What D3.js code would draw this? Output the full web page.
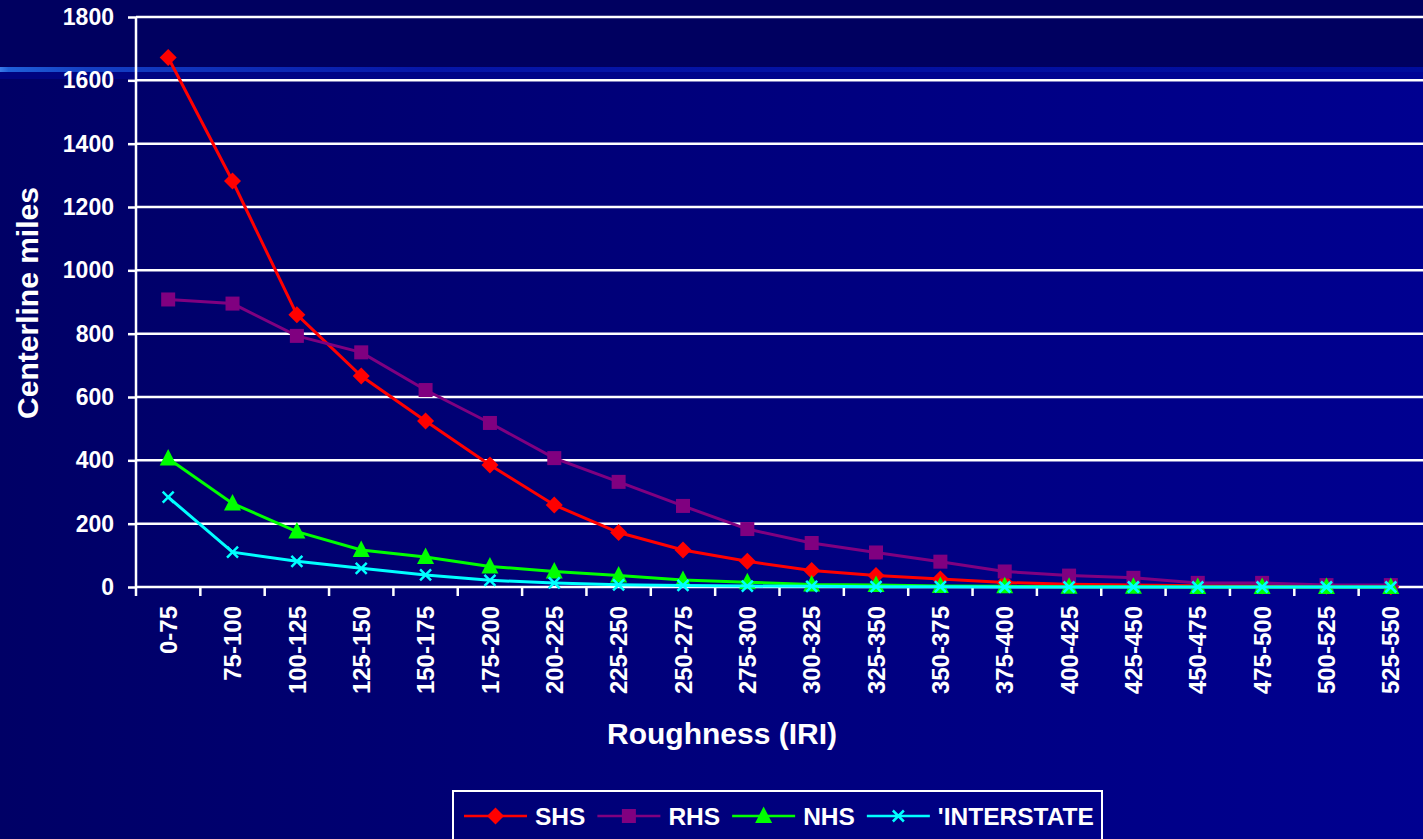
<!DOCTYPE html>
<html>
<head>
<meta charset="utf-8">
<script src="https://cdn.jsdelivr.net/npm/d3@7/dist/d3.min.js"></script>
<style>
  html, body { margin: 0; padding: 0; background: #000066; overflow: hidden; }
  svg { display: block; }
  text { font-family: "Liberation Sans", Arial, sans-serif; font-weight: bold; fill: #ffffff; }
</style>
</head>
<body>
<svg id="chart" width="1423" height="839"></svg>
<script>
// Roughness bins (IRI) and centerline miles per highway system
const categories = ["0-75","75-100","100-125","125-150","150-175","175-200","200-225","225-250","250-275","275-300","300-325","325-350","350-375","375-400","400-425","425-450","450-475","475-500","500-525","525-550"];
const shs        = [1672, 1282, 860, 666, 524, 385, 259, 172, 117, 81, 52, 36, 25, 14, 9, 6, 4, 3, 2, 1];
const rhs        = [908, 895, 793, 741, 622, 518, 407, 332, 256, 183, 139, 109, 80, 49, 36, 29, 13, 13, 6, 6];
const nhs        = [406, 264, 175, 117, 95, 65, 49, 36, 22, 15, 8, 6, 3, 2, 1, 1, 0, 0, 0, 0];
const interstate = [284, 110, 81, 59, 38, 21, 13, 7, 5, 3, 2, 1, 1, 0, 0, 0, 0, 0, 0, 0];
const yTicks     = [0, 200, 400, 600, 800, 1000, 1200, 1400, 1600, 1800];

const seriesNames  = ["SHS", "RHS", "NHS", "'INTERSTATE"];
const seriesValues = [shs, rhs, nhs, interstate];
const seriesColors = ["#ff0000", "#800080", "#00ff00", "#00ffff"];
const seriesMarks  = ["diamond", "square", "triangle", "cross"];

const W = 1423, H = 839;
const svg = d3.select("#chart");
const defs = svg.append("defs");

// slide background: dark band on top, horizontal blue gradient below
const bgGrad = defs.append("linearGradient").attr("id", "bg").attr("x1", 0).attr("x2", 1).attr("y1", 0).attr("y2", 0);
bgGrad.append("stop").attr("offset", 0).attr("stop-color", "#000066");
bgGrad.append("stop").attr("offset", 0.5).attr("stop-color", "#00007c");
bgGrad.append("stop").attr("offset", 1).attr("stop-color", "#000090");
const barGrad = defs.append("linearGradient").attr("id", "bar").attr("x1", 0).attr("x2", 1).attr("y1", 0).attr("y2", 0);
barGrad.append("stop").attr("offset", 0).attr("stop-color", "#3c7ce8");
barGrad.append("stop").attr("offset", 0.006).attr("stop-color", "#2060d8");
barGrad.append("stop").attr("offset", 0.06).attr("stop-color", "#1440c4");
barGrad.append("stop").attr("offset", 0.3).attr("stop-color", "#0616a8");
barGrad.append("stop").attr("offset", 1).attr("stop-color", "#000c9c");

svg.append("rect").attr("width", W).attr("height", H).attr("fill", "url(#bg)");
svg.append("rect").attr("width", W).attr("height", 68).attr("fill", "#000060");
svg.append("rect").attr("y", 67).attr("width", W).attr("height", 5).attr("fill", "url(#bar)");
svg.append("rect").attr("y", 72).attr("width", W).attr("height", 7).attr("fill", "#00089a").attr("opacity", 0.5);

// scales
const x = d3.scaleBand().domain(categories).range([136, 1423]).paddingInner(0).paddingOuter(0);
const y = d3.scaleLinear().domain([0, 1800]).range([587, 17]);
const cx = c => x(c) + x.bandwidth() / 2;

// gridlines
svg.append("g").selectAll("line").data(yTicks.filter(t => t > 0)).join("line")
  .attr("x1", 136).attr("x2", W)
  .attr("y1", d => y(d)).attr("y2", d => y(d))
  .attr("stroke", "#ffffff").attr("stroke-width", 2.5);

// y axis
const yAxis = svg.append("g").attr("transform", "translate(136,0)")
  .call(d3.axisLeft(y).tickValues(yTicks).tickSize(8).tickPadding(14).tickFormat(d3.format("d")));
yAxis.select(".domain").attr("stroke", "#ffffff").attr("stroke-width", 2.5).attr("d", "M0,17V587");
yAxis.selectAll(".tick line").attr("stroke", "#ffffff").attr("stroke-width", 2.5);
yAxis.selectAll(".tick text").attr("fill", "#ffffff").style("font-size", "23px")
  .style("font-family", "'Liberation Sans', Arial, sans-serif").style("font-weight", "bold");

// x axis with ticks at bin boundaries
const xAxisG = svg.append("g");
xAxisG.append("line").attr("x1", 136).attr("x2", W).attr("y1", 587).attr("y2", 587)
  .attr("stroke", "#ffffff").attr("stroke-width", 2.5);
xAxisG.selectAll("line.tk").data(categories).join("line").attr("class", "tk")
  .attr("x1", d => x(d)).attr("x2", d => x(d)).attr("y1", 587).attr("y2", 596)
  .attr("stroke", "#ffffff").attr("stroke-width", 2.5);
xAxisG.selectAll("text").data(categories).join("text")
  .attr("transform", d => `translate(${cx(d)},606) rotate(-90)`)
  .attr("text-anchor", "end").attr("dy", "0.36em")
  .style("font-size", "24px").text(d => d);

// axis titles
svg.append("text").attr("transform", "translate(38,303) rotate(-90)")
  .attr("text-anchor", "middle").style("font-size", "30px").text("Centerline miles");
svg.append("text").attr("x", 722).attr("y", 744)
  .attr("text-anchor", "middle").style("font-size", "30px").text("Roughness (IRI)");

// marker shapes
function markerPath(type) {
  switch (type) {
    case "diamond": return "M0,-8.5L8.5,0L0,8.5L-8.5,0Z";
    case "square": return "M-7,-7H7V7H-7Z";
    case "triangle": return "M0,-9.5L8.5,7H-8.5Z";
    case "cross": return "M-5.5,-5.5L5.5,5.5M-5.5,5.5L5.5,-5.5";
  }
}
function drawMarker(g, type, color) {
  const p = g.append("path").attr("d", markerPath(type));
  if (type === "cross") p.attr("fill", "none").attr("stroke", color).attr("stroke-width", 2.5);
  else p.attr("fill", color);
}

// series lines and markers
const line = d3.line().x((d, i) => cx(categories[i])).y(d => y(d));
seriesValues.forEach((vals, s) => {
  const g = svg.append("g");
  g.append("path").datum(vals).attr("d", line)
    .attr("fill", "none").attr("stroke", seriesColors[s]).attr("stroke-width", 3);
  vals.forEach((v, i) => {
    const m = g.append("g").attr("transform", `translate(${cx(categories[i])},${y(v)})`);
    drawMarker(m, seriesMarks[s], seriesColors[s]);
  });
});

// legend
const legend = svg.append("g");
legend.append("rect").attr("x", 453).attr("y", 791).attr("width", 649).attr("height", 70)
  .attr("fill", "none").attr("stroke", "#ffffff").attr("stroke-width", 2);
let lx = 464;
const ly = 816;
seriesNames.forEach((name, s) => {
  const item = legend.append("g");
  item.append("line").attr("x1", lx).attr("x2", lx + 63).attr("y1", ly).attr("y2", ly)
    .attr("stroke", seriesColors[s]).attr("stroke-width", 2.5);
  const m = item.append("g").attr("transform", `translate(${lx + 31.5},${ly})`);
  drawMarker(m, seriesMarks[s], seriesColors[s]);
  const t = item.append("text").attr("x", lx + 71).attr("y", ly).attr("dy", "0.36em")
    .style("font-size", "24.5px").text(name);
  lx += 71 + t.node().getComputedTextLength() + 12;
});
</script>
</body>
</html>
